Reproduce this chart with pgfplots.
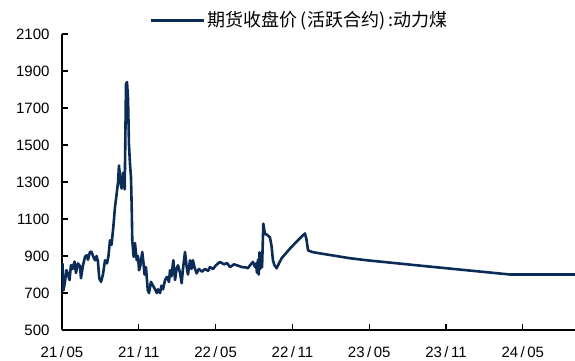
\documentclass[border=0pt]{standalone}
\usepackage{fontspec}
\setmainfont{Liberation Sans}
\newfontfamily\cjk{Noto Sans CJK SC}
\usepackage{pgfplots}
\pgfplotsset{compat=1.18}
\definecolor{coalblue}{RGB}{12,44,88}

% Thermal coal futures, active contract close; x = months since 2021-05
\pgfplotstableread{
m      price
0.04   860
0.12   715
0.23   760
0.35   824
0.47   800
0.59   770
0.70   851
0.82   830
0.98   870
1.09   808
1.25   860
1.41   845
1.48   780
1.64   850
1.80   896
1.93   904
2.03   880
2.19   923
2.32   922
2.42   900
2.58   877
2.70   900
2.81   870
2.91   780
3.05   760
3.20   800
3.36   877
3.52   860
3.63   900
3.75   985
3.87   960
4.01   1057
4.14   1164
4.27   1236
4.38   1300
4.45   1389
4.53   1330
4.61   1280
4.66   1265
4.77   1350
4.84   1300
4.90   1260
4.96   1600
5.00   1829
5.08   1840
5.16   1750
5.23   1507
5.31   1400
5.39   1326
5.45   1150
5.49   985
5.60   895
5.70   970
5.84   877
5.94   900
6.02   823
6.13   850
6.27   922
6.37   860
6.45   800
6.56   840
6.70   715
6.80   700
6.95   760
7.11   740
7.27   720
7.40   700
7.50   720
7.66   700
7.77   740
7.89   720
8.05   770
8.20   787
8.36   760
8.44   823
8.55   790
8.70   877
8.83   770
8.95   830
9.06   850
9.22   810
9.35   753
9.45   830
9.61   922
9.74   840
9.84   800
10.00  877
10.12  830
10.23  877
10.35  840
10.52  806
10.70  830
10.94  815
11.17  830
11.41  820
11.56  840
11.80  830
12.03  850
12.34  868
12.66  855
12.89  862
13.13  840
13.44  855
13.75  848
14.06  840
14.38  838
14.53  834
14.69  850
14.92  868
15.08  840
15.16  860
15.23  810
15.31  880
15.37  800
15.43  920
15.49  830
15.55  900
15.63  840
15.73  1075
15.78  1050
15.86  1020
16.02  1015
16.25  1000
16.38  950
16.48  877
16.60  850
16.77  834
16.95  860
17.16  888
17.81  940
18.36  980
18.98  1022
19.10  990
19.22  931
19.53  922
19.90  917
22.50  888
23.80  877
28.98  841
35.00  800
40.08  800
}\coal

\begin{document}
\begin{tikzpicture}
\begin{axis}[
  scale only axis,
  width=513pt, height=296pt,
  xmin=0, xmax=40.08,
  ymin=500, ymax=2100,
  axis x line=bottom, axis y line=left,
  axis line style={black, line width=1.2pt, -},
  tick align=inside,
  major tick length=6pt,
  tick style={black, line width=1.2pt},
  xtick={0,6,12,18,24,30,36},
  xticklabels={21\,/\,05,21\,/\,11,22\,/\,05,22\,/\,11,23\,/\,05,23\,/\,11,24\,/\,05},
  ytick={500,700,...,2100},
  /pgf/number format/assume math mode=true,
  /pgf/number format/1000 sep={},
  tick label style={font=\fontsize{15}{17}\selectfont, black},
  x tick label style={yshift=-13pt},
  y tick label style={xshift=-9pt},
  legend style={at={(axis description cs:0.1715,1.047)}, anchor=west,
    draw=none, fill=none, inner sep=0pt, outer sep=0pt,
    font=\cjk\fontsize{18}{20}\selectfont},
  legend image code/.code={\draw[#1, line width=3pt] (0pt,0pt) -- (53pt,0pt);},
  clip=false,
]
\addplot[coalblue, line width=2.6pt, line join=round] table[x=m, y=price] {\coal};
\addlegendentry{期货收盘价\kern3pt(活跃合约)\kern3pt:动力煤}
\end{axis}
\pgfresetboundingbox
\path[use as bounding box] ([xshift=-62pt,yshift=-30pt]current axis.south west) rectangle ++(575pt,360pt);
\end{tikzpicture}
\end{document}
